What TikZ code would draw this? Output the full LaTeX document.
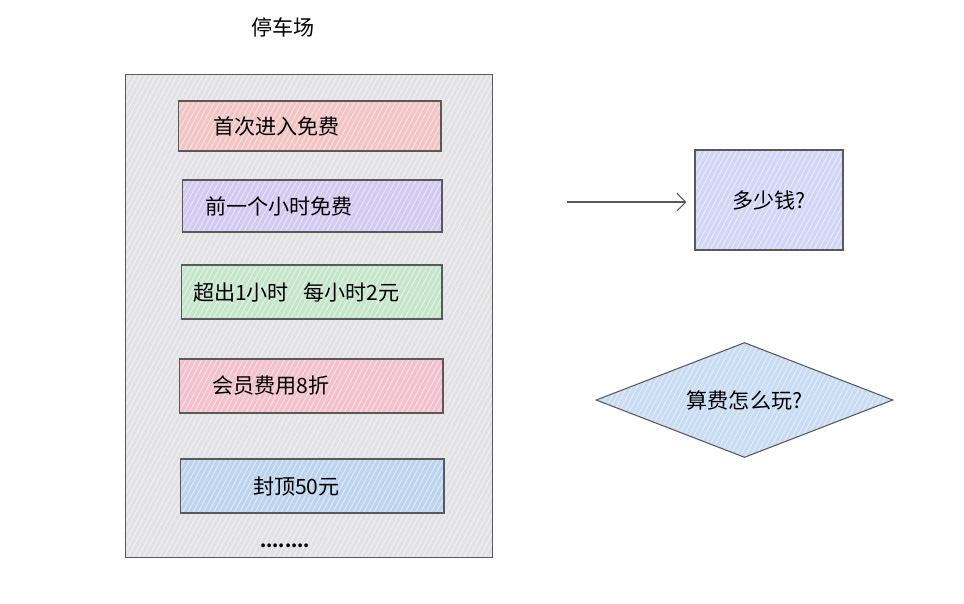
\documentclass[tikz,border=0pt]{standalone}
\usepackage{fontspec}
\setmainfont{Noto Sans CJK SC}
\usetikzlibrary{positioning,shapes.geometric,patterns.meta,arrows.meta}

\definecolor{lotgray}{HTML}{E2E2E5}
\definecolor{freered}{HTML}{F3C4C4}
\definecolor{hourpurple}{HTML}{D3CAF2}
\definecolor{overgreen}{HTML}{C6E6CB}
\definecolor{memberpink}{HTML}{F2C0CF}
\definecolor{capblue}{HTML}{BCD4EE}
\definecolor{costblue}{HTML}{D2D6F6}
\definecolor{rulesblue}{HTML}{C8DCF3}

\tikzset{
	hatch/.style={preaction={fill=#1}, pattern={Lines[angle=62,distance=2.6pt,line width=0.5pt]}, pattern color=white!55!#1},
	entry/.style={draw=black!65, line width=0.6pt, minimum height=1cm, align=left, font=\large},
}

\begin{document}
\begin{tikzpicture}[>={Straight Barb[length=5pt,width=10pt]}, x=0.02cm, y=-0.02cm]
				\useasboundingbox (0,0) rectangle (964,603);

				\node[font=\large] (title) at (283,27) {停车场};

				% LOT
				\node[draw=black!65, line width=0.6pt, hatch=lotgray, minimum width=7.36cm, minimum height=9.68cm] (lot) at (309,316) {};

				% RULES
				\node[entry, hatch=freered, inner xsep=0.7cm, text width=3.86cm] (r1) at (309.5,126) {首次进入免费};
				\node[entry, hatch=hourpurple, inner xsep=0.46cm, text width=4.28cm, minimum height=1.04cm] (r2) at (312,206) {前一个小时免费};
				\node[entry, hatch=overgreen, inner xsep=0.24cm, text width=4.74cm, minimum height=1.08cm] (r3) at (311.5,292) {超出1小时\ \ 每小时2元};
				\node[entry, hatch=memberpink, inner xsep=0.66cm, text width=3.96cm, minimum height=1.08cm] (r4) at (311,386) {会员费用8折};
				\node[entry, hatch=capblue, inner xsep=1.46cm, text width=2.36cm, minimum height=1.08cm] (r5) at (312,486) {封顶50元};
				\node[font=\bfseries] (more) at (285,546) {........};

				% RIGHT
				\node[draw=black!65, line width=0.6pt, hatch=costblue, minimum width=2.96cm, minimum height=2cm, font=\large] (cost) at (769,200) {多少钱?};
				\coordinate (from) at (567,202);
				\draw[->, draw=black!65, line width=0.6pt, shorten >=0.16cm] (from) to (cost.west |- from);

				\node[draw=black!65, line width=0.6pt, hatch=rulesblue, diamond, minimum width=5.94cm, minimum height=2.3cm, aspect=2.6, inner sep=0pt, font=\large] (how) at (744.5,400) {算费怎么玩?};
			\end{tikzpicture}
\end{document}
